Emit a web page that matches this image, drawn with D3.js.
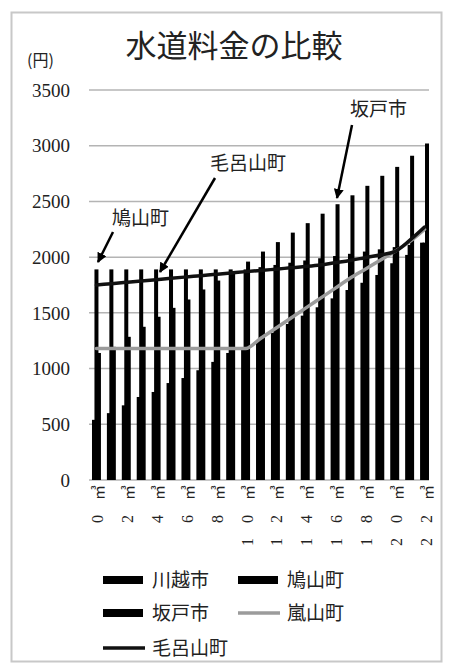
<!DOCTYPE html>
<html><head><meta charset="utf-8">
<script src="https://cdn.jsdelivr.net/npm/d3@7"></script>
<style>
html,body{margin:0;padding:0;background:#fff;}
svg{display:block;}
</style></head>
<body>
<svg id="chart" width="453" height="672"></svg>
<script>
const categories = ["0㎥","1㎥","2㎥","3㎥","4㎥","5㎥","6㎥","7㎥","8㎥","9㎥","10㎥","11㎥","12㎥","13㎥","14㎥","15㎥","16㎥","17㎥","18㎥","19㎥","20㎥","21㎥","22㎥"];
const tickLabels = ["0㎥","2㎥","4㎥","6㎥","8㎥","10㎥","12㎥","14㎥","16㎥","18㎥","20㎥","22㎥"];
const yTicks = [0,500,1000,1500,2000,2500,3000,3500];
const kawagoe = [540,600,670,745,790,870,915,985,1060,1140,1170,1245,1320,1400,1475,1550,1630,1705,1770,1840,1945,2020,2130];
const hatoyama = [1890,1890,1890,1890,1890,1890,1890,1890,1890,1890,1890,1910,1930,1950,1970,1990,2010,2030,2050,2070,2090,2110,2130];
const sakado = [1140,1195,1285,1375,1465,1545,1620,1710,1790,1875,1960,2050,2135,2220,2305,2390,2475,2555,2640,2730,2810,2910,3020];
const ranzan = [1180,1180,1180,1180,1180,1180,1180,1180,1180,1180,1180,1270,1360,1450,1540,1630,1720,1810,1890,1970,2050,2140,2250];
const moroyama = [1750,1762,1774,1786,1798,1810,1822,1834,1846,1858,1870,1880,1892,1904,1916,1930,1950,1970,1995,2020,2050,2150,2270];
const barSeries = [
  {name:"川越市", values:kawagoe},
  {name:"鳩山町", values:hatoyama},
  {name:"坂戸市", values:sakado}
];
const lineSeries = [
  {name:"嵐山町", values:ranzan, color:"#9b9b9b"},
  {name:"毛呂山町", values:moroyama, color:"#111"}
];

const svg = d3.select("#chart");
const serif = "'Liberation Serif','DejaVu Serif',serif";
const jp = "'Noto Sans CJK JP','Noto Sans',sans-serif";

svg.append("rect").attr("x",11.5).attr("y",12.5).attr("width",430).attr("height",649)
  .attr("fill","#fff").attr("stroke","#c8c8c8").attr("stroke-width",2);

const x = d3.scaleBand().domain(categories).range([89,432]).paddingInner(0.4).paddingOuter(0.2);
const y = d3.scaleLinear().domain([0,3500]).range([480,90]);

svg.append("g").selectAll("line").data(yTicks).join("line")
  .attr("x1",89).attr("x2",429).attr("y1",d=>y(d)).attr("y2",d=>y(d))
  .attr("stroke","#b4b4b4").attr("stroke-width",1.5);

svg.append("g").selectAll("text").data(yTicks).join("text")
  .attr("x",70).attr("y",d=>y(d)).attr("dy","0.35em").attr("text-anchor","end")
  .attr("font-family",serif).attr("font-size",19).attr("fill","#222")
  .text(d=>d);

svg.append("text").attr("x",27).attr("y",60).attr("dy","0.35em")
  .attr("font-family",jp).attr("font-size",16).attr("fill","#222").text("(円)");

svg.append("text").attr("x",234).attr("y",46).attr("dy","0.35em").attr("text-anchor","middle")
  .attr("font-family",jp).attr("font-size",31).attr("fill","#222").text("水道料金の比較");

const barW = 4;
const off = (x.bandwidth()-barW)/2;
const gb = svg.append("g");
barSeries.forEach((s,i)=>{
  gb.append("g").selectAll("rect").data(categories).join("rect")
    .attr("x",c=>x(c)+i*off).attr("width",barW)
    .attr("y",(c,j)=>y(s.values[j])).attr("height",(c,j)=>y(0)-y(s.values[j]))
    .attr("fill","#000");
});

lineSeries.forEach(s=>{
  const line = d3.line().x((d,j)=>x(categories[j])+x.bandwidth()/2).y(d=>y(d)).curve(d3.curveMonotoneX);
  svg.append("path").datum(s.values).attr("d",line).attr("fill","none")
    .attr("stroke",s.color).attr("stroke-width",3.5).attr("stroke-linecap","round");
});

const xl = svg.append("g").selectAll("text").data(tickLabels).join("text")
  .attr("transform",d=>`translate(${x(d)+x.bandwidth()/2+1},${470}) rotate(-90)`)
  .attr("text-anchor","end").attr("dominant-baseline","central")
  .attr("font-family",serif).attr("font-size",16).attr("letter-spacing",15).attr("fill","#222");
xl.append("tspan").text(d=>d.replace("㎥",""));
xl.append("tspan").attr("font-family",jp).attr("font-size",15).text("㎥");

svg.append("defs").append("marker").attr("id","ah").attr("viewBox","0 0 10 10")
  .attr("refX",9).attr("refY",5).attr("markerWidth",4).attr("markerHeight",4).attr("orient","auto")
  .append("path").attr("d","M0,0L10,5L0,10z").attr("fill","#000");
const ann = [
  {t:"鳩山町", tx:112, ty:218, x1:113, y1:232, x2:98, y2:262},
  {t:"毛呂山町", tx:210, ty:163, x1:215, y1:178, x2:160, y2:272},
  {t:"坂戸市", tx:350, ty:109, x1:352, y1:125, x2:337, y2:198}
];
ann.forEach(a=>{
  svg.append("text").attr("x",a.tx).attr("y",a.ty).attr("dy","0.35em")
    .attr("font-family",jp).attr("font-size",19).attr("fill","#222").text(a.t);
  svg.append("line").attr("x1",a.x1).attr("y1",a.y1).attr("x2",a.x2).attr("y2",a.y2)
    .attr("stroke","#000").attr("stroke-width",2.5).attr("marker-end","url(#ah)");
});

const legend = [
  {name:"川越市", type:"bar", x:103, y:580},
  {name:"鳩山町", type:"bar", x:238, y:580},
  {name:"坂戸市", type:"bar", x:103, y:613},
  {name:"嵐山町", type:"line", color:"#9b9b9b", x:238, y:613},
  {name:"毛呂山町", type:"line", color:"#111", x:103, y:648}
];
legend.forEach(l=>{
  if(l.type==="bar"){
    svg.append("rect").attr("x",l.x).attr("y",l.y-4).attr("width",40).attr("height",8).attr("fill","#000");
  } else {
    svg.append("line").attr("x1",l.x).attr("x2",l.x+42).attr("y1",l.y).attr("y2",l.y)
      .attr("stroke",l.color).attr("stroke-width",3.5);
  }
  svg.append("text").attr("x",l.x+49).attr("y",l.y).attr("dy","0.35em")
    .attr("font-family",jp).attr("font-size",19).attr("fill","#222").text(l.name);
});
</script>
</body></html>
